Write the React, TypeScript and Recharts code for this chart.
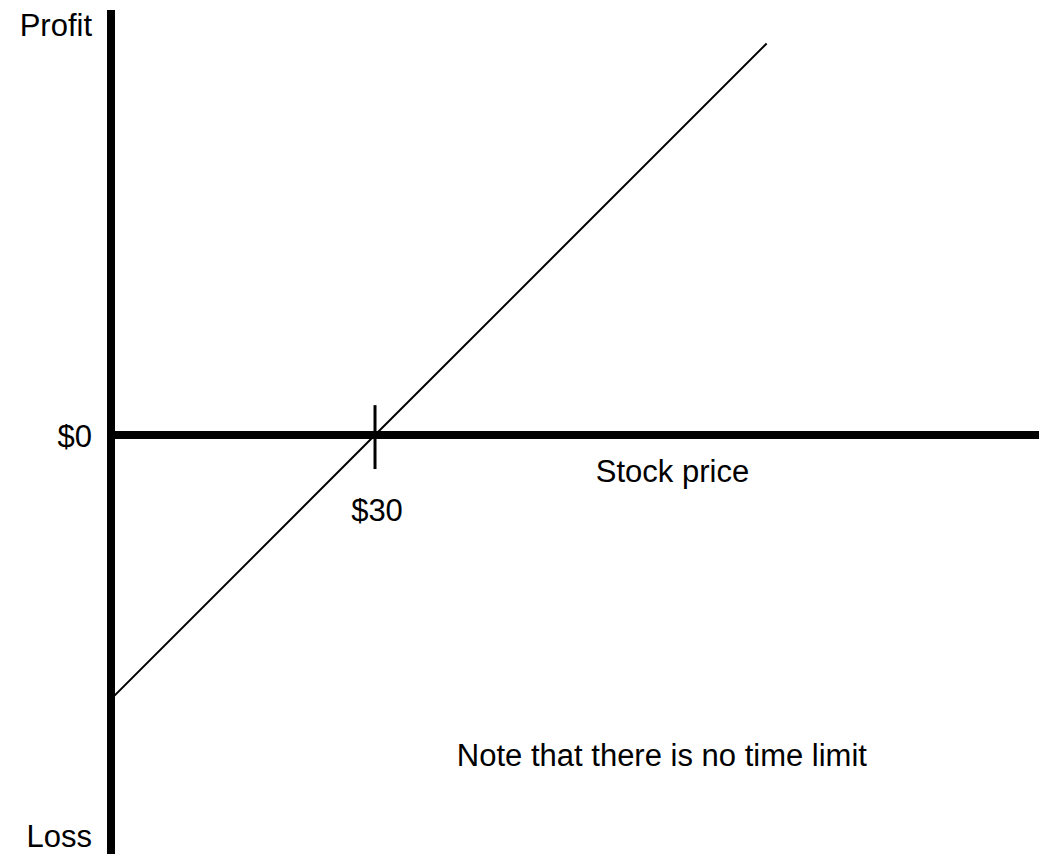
import { LineChart, Line, XAxis, YAxis, ReferenceLine, ReferenceDot } from 'recharts';

// payoff of a long call: stock price -> profit
const prices = [0, 30, 74.5];
const profits = [-30, 0, 44.5];

const strike = 30;
const strikeLabel = '$30';

// y axis labels: top, zero, bottom
const yTicks = [48.3, 0, -47.6];
const yTickLabels = ['Profit', '$0', 'Loss'];

const notes = [
  { text: 'Stock price', x: 63.8, y: -4.1 },
  { text: 'Note that there is no time limit', x: 62.6, y: -36.4 },
];

const data = prices.map((p, i) => ({ price: p, profit: profits[i] }));

const FONT = '"Liberation Sans", Arial, Helvetica, sans-serif';

const tickShift = [26, 12, -7];

const YTick = (props: any) => {
  const { x, y, payload, index } = props;
  const i = yTicks.indexOf(payload.value);
  return (
    <text x={x} y={y + tickShift[i >= 0 ? i : index]} textAnchor="end" fontSize={31} fontFamily={FONT} fill="#000">
      {yTickLabels[i >= 0 ? i : index]}
    </text>
  );
};

export default function App() {
  return (
    <div style={{ position: 'absolute', left: 0, top: 0, width: 1045, height: 854, background: '#fff' }}>
      <LineChart width={1045} height={854} data={data} margin={{ top: 10, right: 6, bottom: 0, left: 0 }}>
        <XAxis type="number" dataKey="price" domain={[0, 105.45]} allowDataOverflow hide />
        <YAxis
          type="number"
          domain={[yTicks[2], yTicks[0]]}
          allowDataOverflow
          width={111}
          ticks={yTicks}
          interval={0}
          tickSize={0}
          tickMargin={19}
          tickLine={false}
          axisLine={{ stroke: '#000', strokeWidth: 8 }}
          tick={<YTick />}
        />
        <ReferenceLine y={0} stroke="#000" strokeWidth={8} />
        <ReferenceLine
          segment={[{ x: strike, y: 3.4 }, { x: strike, y: -3.86 }]}
          stroke="#000"
          strokeWidth={3}
        />
        <Line
          type="linear"
          dataKey="profit"
          stroke="#000"
          strokeWidth={2}
          dot={false}
          isAnimationActive={false}
        />
        <ReferenceDot
          x={strike}
          y={0}
          r={0}
          stroke="none"
          fill="none"
          label={(p: any) => (
            <text x={p.viewBox.x + 2} y={p.viewBox.y + 86} textAnchor="middle" fontSize={31} fontFamily={FONT} fill="#000">
              {strikeLabel}
            </text>
          )}
        />
        {notes.map((n) => (
          <ReferenceDot
            key={n.text}
            x={n.x}
            y={n.y}
            r={0}
            stroke="none"
            fill="none"
            label={{ value: n.text, position: 'center', fontSize: 31, fontFamily: FONT, fill: '#000' }}
          />
        ))}
      </LineChart>
    </div>
  );
}
